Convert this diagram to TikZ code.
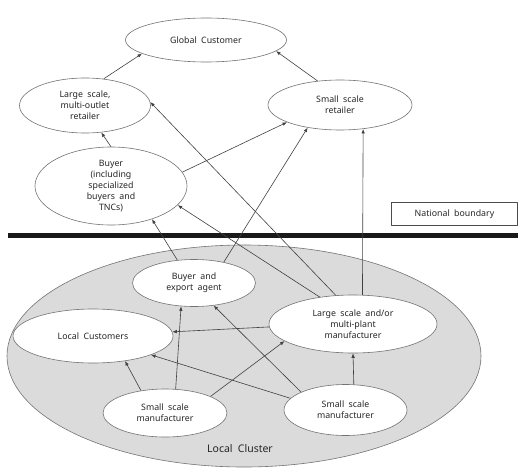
\documentclass[tikz,border=0pt]{standalone}
\usepackage{fontspec}
\setmainfont{Noto Sans}
\usetikzlibrary{arrows.meta,shapes.geometric}
\newcommand\widesp{\spaceskip=0.5em\relax}
\tikzset{
  every picture/.style={line join=round, >=Stealth},
  oval/.style={ellipse, draw=black!55, fill=white, line width=0.6pt, inner sep=0pt, align=center, text=black!85},
  link/.style={-{Latex[length=4.5pt,width=3.5pt]}, draw=black!75, line width=0.6pt},
  wide/.style={font=\fontsize{8.8}{11}\selectfont, execute at begin node=\widesp},
}
\begin{document}
\begin{tikzpicture}[x=1pt,y=-1pt,wide]
\useasboundingbox (0,0) rectangle (518,468);
% local cluster
\node[ellipse,draw=black!55,fill=black!14,line width=0.6pt,minimum width=474,minimum height=222] (clu) at (244,356) {};
\node[text=black!85,font=\fontsize{10.5}{12}\selectfont] (clulbl) at (240,449) {Local Cluster};
% boundary
\draw[line width=4.5pt,black!90] (8,235.5) -- (518,235.5);
\node[draw=black!70,line width=0.6pt,minimum width=126,minimum height=23,inner sep=0pt,text=black!85] (nat) at (454.5,214) {National boundary};
% upper nodes
\node[oval,minimum width=161,minimum height=44] (glob) at (206,40) {Global Customer};
\node[oval,minimum width=131,minimum height=55] (lret) at (85,105.5) {Large scale,\\multi-outlet\\retailer};
\node[oval,minimum width=144,minimum height=50] (sret) at (340,105) {Small scale\\retailer};
\node[oval,minimum width=152,minimum height=78] (buyer) at (111,186) {Buyer\\(including\\specialized\\buyers and\\TNCs)};
% lower nodes
\node[oval,minimum width=123,minimum height=47] (bexp) at (194,283) {Buyer and\\export agent};
\node[oval,minimum width=160,minimum height=54] (loc) at (93,336) {Local Customers};
\node[oval,minimum width=168,minimum height=58] (lman) at (353,324) {Large scale and/or\\multi-plant\\manufacturer};
\node[oval,minimum width=124,minimum height=48] (sm1) at (165,413) {Small scale\\manufacturer};
\node[oval,minimum width=123,minimum height=51] (sm2) at (345.5,410) {Small scale\\manufacturer};
% links
\draw[link] (lret.55) -- (glob.192);
\draw[link] (sret.133) -- (glob.-9.4);
\draw[link] (buyer.90) -- (lret.-59);
\draw[link] (buyer.11) -- (sret.198);
\draw[link] (bexp.126) -- (buyer.-39);
\draw[link] (bexp.35) -- (sret.215);
\draw[link] (lman.141) -- (buyer.-16);
\draw[link] (lman.121) -- (lret.3);
\draw[link] (lman.72.6) -- (sret.-46.9);
\draw[link] (lman.182) -- (loc.3);
\draw[link] (sm1.137) -- (loc.-38.5);
\draw[link] (sm1.66) -- (bexp.241);
\draw[link] (sm1.20.6) -- (lman.194);
\draw[link] (sm2.158) -- (bexp.-49.6);
\draw[link] (sm2.168) -- (loc.-18);
\draw[link] (sm2.72.3) -- (lman.-90);
\end{tikzpicture}
\end{document}
